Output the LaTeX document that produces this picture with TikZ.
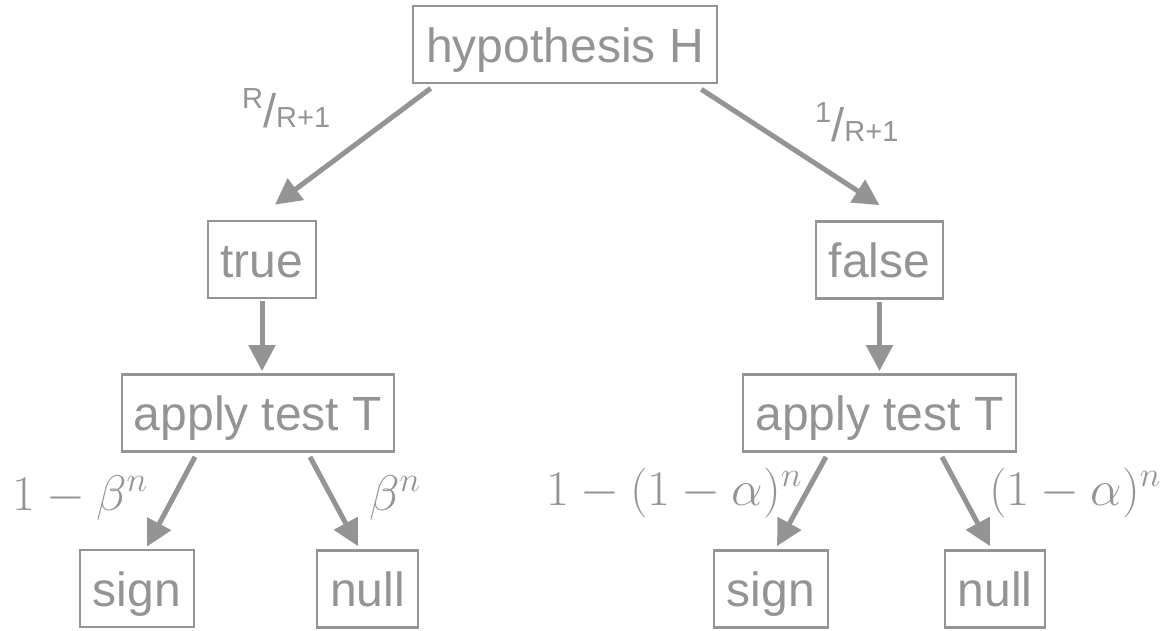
\RequirePackage{fix-cm}
\documentclass[tikz,border=0pt]{standalone}
\usepackage{fontspec}
\setmainfont{Liberation Sans}
\usetikzlibrary{arrows.meta,calc}
\definecolor{g}{RGB}{148,148,148}
\newcommand{\smallfrac}{\fontsize{29}{31}\selectfont}
\begin{document}
\begin{tikzpicture}[x=1pt,y=-1pt,
  box/.style={draw=g, line width=2.7pt, text=g, font=\fontsize{48}{52}\selectfont,
    minimum height=77pt, inner sep=0pt, text height=35pt, text depth=0pt},
  arr/.style={draw=g, line width=5pt, -{Triangle[length=26pt,width=26pt]}},
  lbl/.style={text=g, inner sep=0pt, font=\fontsize{47}{50}\selectfont},
  mth/.style={text=g, inner sep=0pt, font=\fontsize{50}{54}\selectfont}]
\useasboundingbox (0,0) rectangle (1163,630);

\node[box, minimum width=304pt] (H) at (565,44.5) {hypothesis H};
\node[box, minimum width=108pt] (T) at (262,259.5) {true};
\node[box, minimum width=127pt] (F) at (879.5,260) {false};
\node[box, minimum width=272pt] (AL) at (258,413) {apply test T};
\node[box, minimum width=273pt] (AR) at (879.5,413) {apply test T};
\node[box, minimum width=114pt] (SL) at (137,588.5) {sign};
\node[box, minimum width=101pt] (NL) at (367.5,589) {null};
\node[box, minimum width=114pt] (SR) at (771,589) {sign};
\node[box, minimum width=100pt] (NR) at (995,589) {null};

\draw[arr] ($(H.south west)+(19,4)$) -- ($(T.north)+(13,-15)$);
\draw[arr] ($(H.south east)+(-17,5)$) -- ($(F.north)+(0,-15)$);
\draw[arr] ($(T.south)+(0,2)$) -- ($(T.south |- AL.north)+(0,-2)$);
\draw[arr] ($(F.south)+(0,2)$) -- ($(F.south |- AR.north)+(0,-2)$);
\draw[arr] ($(AL.south)+(-63,4)$) -- ($(SL.north)+(10,-2)$);
\draw[arr] ($(AL.south)+(52,4)$) -- ($(NL.north)+(-9.5,-3)$);
\draw[arr] ($(AR.south)+(-53.5,4)$) -- ($(SR.north)+(6,-3)$);
\draw[arr] ($(AR.south)+(62.5,4)$) -- ($(NR.north)+(-5,-3)$);

\node[lbl, anchor=base west] (pR) at (242,127) {\raisebox{19pt}{\smallfrac R}/{\smallfrac R+1}};
\node[lbl, anchor=base west] (p1) at (815,141) {\raisebox{19pt}{\smallfrac 1}/{\smallfrac R+1}};

\node[mth, anchor=base] (b1) at (80,510) {$1-\beta^n$};
\node[mth, anchor=base] (b2) at (395,510) {$\beta^n$};
\node[mth, anchor=base] (a1) at (674,505) {$1-(1-\alpha)^n$};
\node[mth, anchor=base] (a2) at (1075,505) {$(1-\alpha)^n$};
\end{tikzpicture}
\end{document}
